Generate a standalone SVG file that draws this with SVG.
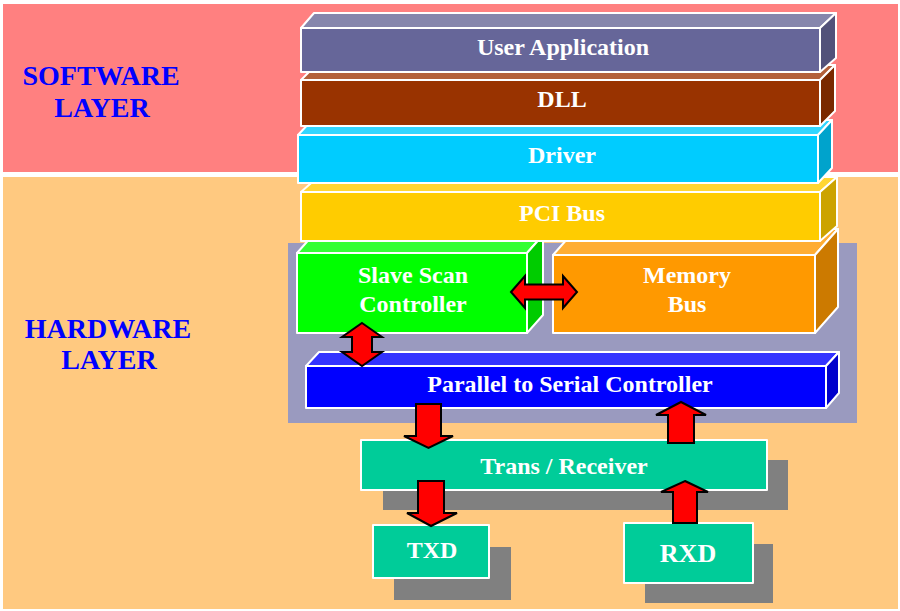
<svg xmlns="http://www.w3.org/2000/svg" width="900" height="611" viewBox="0 0 900 611">
<style>
.lbl{font-family:'Liberation Serif','Times New Roman',serif;font-weight:700;fill:#FFFFFF;text-anchor:middle;font-size:24px}
.layer{font-family:'Liberation Serif','Times New Roman',serif;font-weight:700;fill:#0000FF;text-anchor:middle;font-size:28px}
.edge{stroke:#FFFFFF;stroke-width:2;stroke-linejoin:round}
.arrow{fill:#FF0000;stroke:#000000;stroke-width:2;stroke-linejoin:miter}
.shadow{fill:#808080}
</style>
<rect x="0" y="0" width="900" height="611" fill="#FFFFFF"/>
<rect id="software-band" x="3" y="4" width="895" height="168" fill="#FF8080"/>
<rect id="hardware-band" x="3" y="177" width="895" height="432" fill="#FFC980"/>
<g id="software-label">
<text class="layer" x="101" y="85">SOFTWARE</text>
<text class="layer" x="102" y="117">LAYER</text>
</g>
<g id="hardware-label">
<text class="layer" x="108" y="338">HARDWARE</text>
<text class="layer" x="109" y="369">LAYER</text>
</g>
<rect id="hw-panel" x="288" y="243" width="569" height="180" fill="#9A9ABF"/>

<g id="parallel-serial">
<polygon class="edge" points="306,366 319,352 839,352 826,366" fill="#3333FF"/>
<polygon class="edge" points="826,366 839,352 839,393 826,408" fill="#0000CC"/>
<rect class="edge" x="306" y="366" width="520" height="42" fill="#0000FF"/>
<text class="lbl" x="570" y="392">Parallel to Serial Controller</text>
</g>
<g id="slave-scan">
<polygon class="edge" points="297,253 313,235 543,235 527,253" fill="#33FF33"/>
<polygon class="edge" points="527,253 543,235 543,315 527,333" fill="#00CC00"/>
<rect class="edge" x="297" y="253" width="230" height="80" fill="#00FF00"/>
<text class="lbl" x="413" y="283">Slave Scan</text>
<text class="lbl" x="413" y="312">Controller</text>
</g>
<g id="memory-bus">
<polygon class="edge" points="553,255 576,229 838,229 815,255" fill="#FFAD33"/>
<polygon class="edge" points="815,255 838,229 838,307 815,333" fill="#CC7A00"/>
<rect class="edge" x="553" y="255" width="262" height="78" fill="#FF9900"/>
<text class="lbl" x="687" y="283">Memory</text>
<text class="lbl" x="687" y="312">Bus</text>
</g>
<g id="pci-bus">
<polygon class="edge" points="301,192 318,177 837,177 820,192" fill="#FFD633"/>
<polygon class="edge" points="820,192 837,177 837,226 820,241" fill="#CCA300"/>
<rect class="edge" x="301" y="192" width="519" height="49" fill="#FFCC00"/>
<text class="lbl" x="562" y="221">PCI Bus</text>
</g>
<g id="driver">
<polygon class="edge" points="298,135 312,120 832,120 818,135" fill="#33D6FF"/>
<polygon class="edge" points="818,135 832,120 832,168 818,183" fill="#00A3CC"/>
<rect class="edge" x="298" y="135" width="520" height="48" fill="#00CCFF"/>
<text class="lbl" x="562" y="163">Driver</text>
</g>
<g id="dll">
<polygon class="edge" points="301,80 316,65 835,65 820,80" fill="#B3603A"/>
<polygon class="edge" points="820,80 835,65 835,111 820,126" fill="#7A2900"/>
<rect class="edge" x="301" y="80" width="519" height="46" fill="#993300"/>
<text class="lbl" x="562" y="107">DLL</text>
</g>
<g id="user-application">
<polygon class="edge" points="301,28 314,13 836,13 820,28" fill="#8686AC"/>
<polygon class="edge" points="820,28 836,13 836,58 820,72" fill="#52527A"/>
<rect class="edge" x="301" y="28" width="519" height="44" fill="#666699"/>
<text class="lbl" x="563" y="55">User Application</text>
</g>

<g id="trans-receiver">
<rect class="shadow" x="383" y="460" width="405" height="50"/>
<rect class="edge" x="361" y="440" width="406" height="50" fill="#00CC99"/>
<text class="lbl" x="564" y="474">Trans / Receiver</text>
</g>
<g id="txd">
<rect class="shadow" x="394" y="547" width="117" height="53"/>
<rect class="edge" x="373" y="525" width="116" height="53" fill="#00CC99"/>
<text class="lbl" x="432" y="558">TXD</text>
</g>
<g id="rxd">
<rect class="shadow" x="645" y="544" width="128" height="59"/>
<rect class="edge" x="624" y="523" width="129" height="60" fill="#00CC99"/>
<text class="lbl" x="688" y="562" style="font-size:26px">RXD</text>
</g>

<g id="connectors">
<polygon class="arrow" points="511,292 525,276 525,284.5 563,284.5 563,276 577,292 563,308 563,299.5 525,299.5 525,308"/>
<polygon class="arrow" points="362,323 382,337 372,337 372,352 382,352 362,366 342,352 352,352 352,337 342,337"/>
<polygon class="arrow" points="416,404 441,404 441,436 453,436 428.5,448 404,436 416,436"/>
<polygon class="arrow" points="681,402 706,415 694,415 694,443 668,443 668,415 656,415"/>
<polygon class="arrow" points="418,481 444,481 444,513 457,513 431,526 407,513 418,513"/>
<polygon class="arrow" points="685,481 708,492 697,492 697,523 673,523 673,492 661,492"/>
</g>
</svg>
